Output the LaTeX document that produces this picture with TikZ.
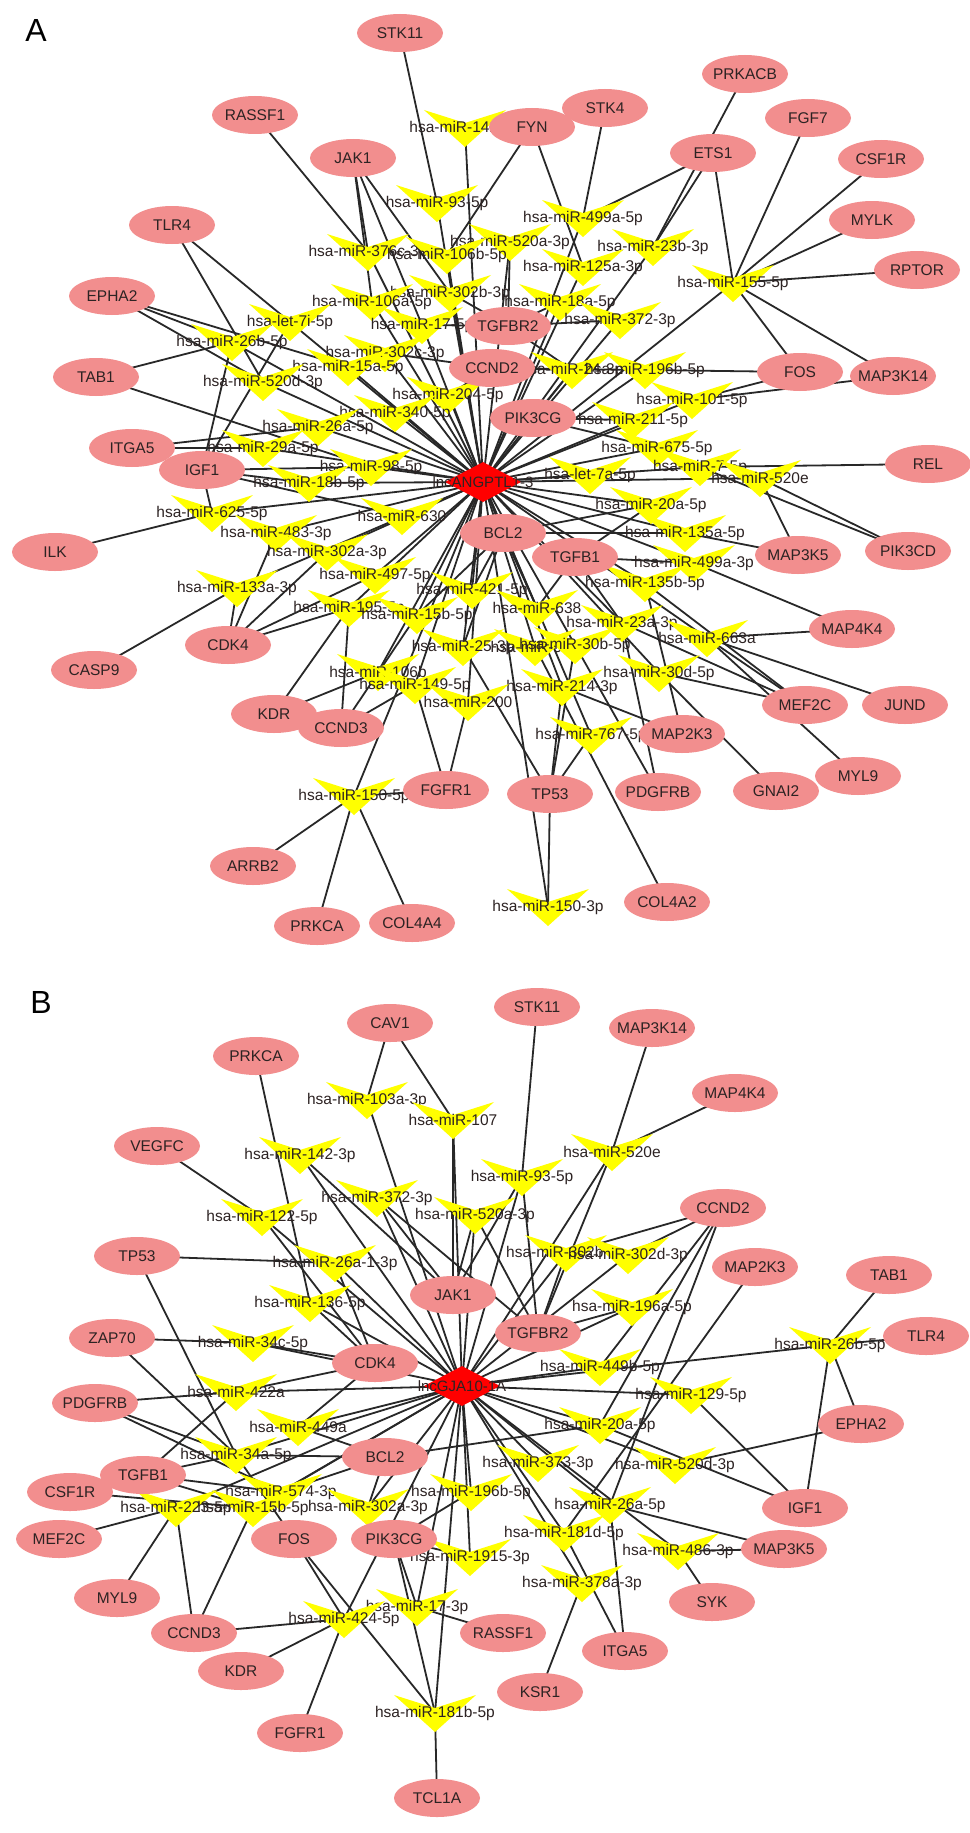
\documentclass[tikz,border=0pt]{standalone}
\usepackage{fontspec}
\setmainfont{Liberation Sans}
\usetikzlibrary{shapes.geometric}
\definecolor{genefill}{RGB}{242,142,142}
\definecolor{mirfill}{RGB}{255,255,0}
\definecolor{edgecol}{RGB}{40,40,40}
\definecolor{txt}{RGB}{45,35,35}
\pgfdeclarelayer{bg}
\pgfsetlayers{bg,main}
\tikzset{
 gene/.style={ellipse, fill=genefill, minimum width=86pt, minimum height=38pt, inner sep=0pt, text=txt, font=\fontsize{15.5}{17}\selectfont},
 mirlab/.style={inner sep=0pt, text=txt, font=\fontsize{15.5}{17}\selectfont},
 mirshape/.style={fill=mirfill},
 lnc/.style={diamond, fill=red, minimum width=76pt, minimum height=40pt, inner sep=0pt, text=txt, font=\fontsize{15}{17}\selectfont},
 edge/.style={draw=edgecol, line width=1.8pt},
 panel/.style={font=\fontsize{32}{34}\selectfont, text=black}
}
\newcommand\gn[4]{\node[gene] (#1) at (#2,#3) {\makebox[0pt]{#4}};}
\newcommand\mr[4]{\fill[mirshape] ({#2-41},{#3-18}) -- (#2,{#3-5}) -- ({#2+41},{#3-18}) -- (#2,{#3+19}) -- cycle;
  \node[mirlab] (#1) at (#2,#3) {#4};}
\begin{document}
\begin{tikzpicture}[x=1pt,y=-1pt]
\useasboundingbox (0,0) rectangle (969,1833);
\begin{pgfonlayer}{bg}\fill[white] (0,0) rectangle (969,1833);\end{pgfonlayer}
\node[panel] (labA) at (36,30) {A};
\node[panel] (labB) at (41,1002) {B};
% ---------------- Panel A miRNAs
\mr{am1}{465}{128}{hsa-miR-142-3p}
\mr{am2}{437}{203}{hsa-miR-93-5p}
\mr{am3}{583}{218}{hsa-miR-499a-5p}
\mr{am4}{510}{242}{hsa-miR-520a-3p}
\mr{am5}{653}{247}{hsa-miR-23b-3p}
\mr{am6}{368}{252}{hsa-miR-376c-3p}
\mr{am7}{447}{255}{hsa-miR-106b-5p}
\mr{am8}{583}{267}{hsa-miR-125a-3p}
\mr{am9}{733}{283}{hsa-miR-155-5p}
\mr{am10}{450}{293}{hsa-miR-302b-3p}
\mr{am11}{560}{302}{hsa-miR-18a-5p}
\mr{am12}{372}{302}{hsa-miR-106a-5p}
\mr{am13}{620}{320}{hsa-miR-372-3p}
\mr{am14}{290}{322}{hsa-let-7i-5p}
\mr{am15}{422}{325}{hsa-miR-17-5p}
\mr{am16}{232}{342}{hsa-miR-26b-5p}
\mr{am17}{385}{353}{hsa-miR-302c-3p}
\mr{am18}{348}{367}{hsa-miR-15a-5p}
\mr{am19}{572}{370}{hsa-miR-24-3p}
\mr{am20}{645}{370}{hsa-miR-196b-5p}
\mr{am21}{263}{382}{hsa-miR-520d-3p}
\mr{am22}{448}{395}{hsa-miR-204-5p}
\mr{am23}{692}{400}{hsa-miR-101-5p}
\mr{am24}{395}{413}{hsa-miR-340-5p}
\mr{am25}{633}{420}{hsa-miR-211-5p}
\mr{am26}{318}{427}{hsa-miR-26a-5p}
\mr{am27}{263}{448}{hsa-miR-29a-5p}
\mr{am28}{657}{448}{hsa-miR-675-5p}
\mr{am29}{371}{467}{hsa-miR-98-5p}
\mr{am30}{700}{467}{hsa-miR-7-5p}
\mr{am31}{590}{475}{hsa-let-7a-5p}
\mr{am32}{760}{478}{hsa-miR-520e}
\mr{am33}{309}{483}{hsa-miR-18b-5p}
\mr{am34}{651}{505}{hsa-miR-20a-5p}
\mr{am35}{212}{513}{hsa-miR-625-5p}
\mr{am36}{402}{516}{hsa-miR-630}
\mr{am37}{276}{533}{hsa-miR-483-3p}
\mr{am38}{685}{533}{hsa-miR-135a-5p}
\mr{am39}{327}{552}{hsa-miR-302a-3p}
\mr{am40}{694}{563}{hsa-miR-499a-3p}
\mr{am41}{375}{575}{hsa-miR-497-5p}
\mr{am42}{645}{583}{hsa-miR-135b-5p}
\mr{am43}{237}{588}{hsa-miR-133a-3p}
\mr{am44}{472}{590}{hsa-miR-421-5p}
\mr{am45}{349}{608}{hsa-miR-195-5p}
\mr{am46}{537}{608}{hsa-miR-638}
\mr{am47}{417}{615}{hsa-miR-15b-5p}
\mr{am48}{622}{623}{hsa-miR-23a-3p}
\mr{am49}{707}{638}{hsa-miR-663a}
\mr{am50}{463}{647}{hsa-miR-25-3p}
\mr{am51}{535}{647}{hsa-miR-504}
\mr{am52}{575}{645}{hsa-miR-30b-5p}
\mr{am53}{378}{672}{hsa-miR-106b}
\mr{am54}{659}{673}{hsa-miR-30d-5p}
\mr{am55}{415}{685}{hsa-miR-149-5p}
\mr{am56}{562}{687}{hsa-miR-214-3p}
\mr{am57}{468}{702}{hsa-miR-200}
\mr{am58}{591}{735}{hsa-miR-767-5p}
\mr{am59}{354}{796}{hsa-miR-150-5p}
\mr{am60}{548}{907}{hsa-miR-150-3p}
% ---------------- Panel A genes
\gn{aSTK11}{400}{33}{STK11}
\gn{aPRKACB}{745}{74}{PRKACB}
\gn{aRASSF1}{255}{115}{RASSF1}
\gn{aFYN}{532}{127}{FYN}
\gn{aSTK4}{605}{108}{STK4}
\gn{aETS1}{713}{153}{ETS1}
\gn{aFGF7}{808}{118}{FGF7}
\gn{aCSF1R}{881}{159}{CSF1R}
\gn{aJAK1}{353}{158}{JAK1}
\gn{aTLR4}{172}{225}{TLR4}
\gn{aMYLK}{872}{220}{MYLK}
\gn{aRPTOR}{917}{270}{RPTOR}
\gn{aEPHA2}{112}{296}{EPHA2}
\gn{aTGFBR2}{508}{326}{TGFBR2}
\gn{aTAB1}{96}{377}{TAB1}
\gn{aFOS}{800}{372}{FOS}
\gn{aMAP3K14}{893}{376}{MAP3K14}
\gn{aCCND2}{492}{368}{CCND2}
\gn{aPIK3CG}{533}{418}{PIK3CG}
\gn{aITGA5}{132}{448}{ITGA5}
\gn{aIGF1}{202}{470}{IGF1}
\gn{aREL}{928}{464}{REL}
\gn{aBCL2}{503}{533}{BCL2}
\gn{aTGFB1}{575}{557}{TGFB1}
\gn{aMAP3K5}{798}{555}{MAP3K5}
\gn{aPIK3CD}{908}{551}{PIK3CD}
\gn{aILK}{55}{552}{ILK}
\gn{aCDK4}{228}{645}{CDK4}
\gn{aCASP9}{94}{670}{CASP9}
\gn{aMAP4K4}{852}{629}{MAP4K4}
\gn{aKDR}{274}{714}{KDR}
\gn{aCCND3}{341}{728}{CCND3}
\gn{aMEF2C}{805}{705}{MEF2C}
\gn{aJUND}{905}{705}{JUND}
\gn{aMAP2K3}{682}{734}{MAP2K3}
\gn{aMYL9}{858}{776}{MYL9}
\gn{aFGFR1}{446}{790}{FGFR1}
\gn{aTP53}{550}{794}{TP53}
\gn{aPDGFRB}{658}{792}{PDGFRB}
\gn{aGNAI2}{776}{791}{GNAI2}
\gn{aARRB2}{253}{866}{ARRB2}
\gn{aPRKCA}{317}{926}{PRKCA}
\gn{aCOL4A4}{412}{923}{COL4A4}
\gn{aCOL4A2}{667}{902}{COL4A2}
\node[lnc] (LA) at (483,482) {\makebox[0pt]{lncANGPTL1-3}};
% ---------------- Panel B miRNAs
\mr{bm1}{367}{1100}{hsa-miR-103a-3p}
\mr{bm2}{453}{1120}{hsa-miR-107}
\mr{bm3}{300}{1155}{hsa-miR-142-3p}
\mr{bm4}{612}{1152}{hsa-miR-520e}
\mr{bm5}{522}{1177}{hsa-miR-93-5p}
\mr{bm6}{377}{1198}{hsa-miR-372-3p}
\mr{bm7}{475}{1215}{hsa-miR-520a-3p}
\mr{bm8}{262}{1217}{hsa-miR-122-5p}
\mr{bm9}{566}{1253}{hsa-miR-302b-3p}
\mr{bm10}{628}{1255}{hsa-miR-302d-3p}
\mr{bm11}{335}{1263}{hsa-miR-26a-1-3p}
\mr{bm12}{310}{1303}{hsa-miR-136-5p}
\mr{bm13}{632}{1307}{hsa-miR-196a-5p}
\mr{bm14}{253}{1343}{hsa-miR-34c-5p}
\mr{bm15}{830}{1345}{hsa-miR-26b-5p}
\mr{bm16}{600}{1367}{hsa-miR-449b-5p}
\mr{bm17}{236}{1392}{hsa-miR-422a}
\mr{bm18}{691}{1395}{hsa-miR-129-5p}
\mr{bm19}{298}{1427}{hsa-miR-449a}
\mr{bm20}{600}{1425}{hsa-miR-20a-5p}
\mr{bm21}{236}{1455}{hsa-miR-34a-5p}
\mr{bm22}{538}{1463}{hsa-miR-373-3p}
\mr{bm23}{675}{1465}{hsa-miR-520d-3p}
\mr{bm24}{471}{1492}{hsa-miR-196b-5p}
\mr{bm25}{281}{1492}{hsa-miR-574-3p}
\mr{bm26}{610}{1505}{hsa-miR-26a-5p}
\mr{bm27}{368}{1507}{hsa-miR-302a-3p}
\mr{bm28}{176}{1508}{hsa-miR-223-5p}
\mr{bm29}{253}{1508}{hsa-miR-15b-5p}
\mr{bm30}{564}{1533}{hsa-miR-181d-5p}
\mr{bm31}{678}{1551}{hsa-miR-486-3p}
\mr{bm32}{470}{1557}{hsa-miR-1915-3p}
\mr{bm33}{582}{1583}{hsa-miR-378a-3p}
\mr{bm34}{417}{1607}{hsa-miR-17-3p}
\mr{bm35}{344}{1619}{hsa-miR-424-5p}
\mr{bm36}{435}{1713}{hsa-miR-181b-5p}
% ---------------- Panel B genes
\gn{bCAV1}{390}{1023}{CAV1}
\gn{bSTK11}{537}{1007}{STK11}
\gn{bPRKCA}{256}{1056}{PRKCA}
\gn{bMAP3K14}{652}{1028}{MAP3K14}
\gn{bMAP4K4}{735}{1093}{MAP4K4}
\gn{bVEGFC}{157}{1146}{VEGFC}
\gn{bCCND2}{723}{1208}{CCND2}
\gn{bTP53}{137}{1256}{TP53}
\gn{bMAP2K3}{755}{1267}{MAP2K3}
\gn{bTAB1}{889}{1275}{TAB1}
\gn{bJAK1}{453}{1295}{JAK1}
\gn{bTGFBR2}{538}{1333}{TGFBR2}
\gn{bZAP70}{112}{1338}{ZAP70}
\gn{bTLR4}{926}{1336}{TLR4}
\gn{bCDK4}{375}{1363}{CDK4}
\gn{bPDGFRB}{95}{1403}{PDGFRB}
\gn{bEPHA2}{861}{1424}{EPHA2}
\gn{bBCL2}{385}{1457}{BCL2}
\gn{bTGFB1}{143}{1475}{TGFB1}
\gn{bCSF1R}{70}{1492}{CSF1R}
\gn{bIGF1}{805}{1508}{IGF1}
\gn{bMEF2C}{59}{1539}{MEF2C}
\gn{bFOS}{294}{1539}{FOS}
\gn{bPIK3CG}{394}{1539}{PIK3CG}
\gn{bMAP3K5}{784}{1549}{MAP3K5}
\gn{bMYL9}{117}{1598}{MYL9}
\gn{bSYK}{712}{1602}{SYK}
\gn{bCCND3}{194}{1633}{CCND3}
\gn{bRASSF1}{503}{1633}{RASSF1}
\gn{bITGA5}{625}{1651}{ITGA5}
\gn{bKDR}{241}{1671}{KDR}
\gn{bKSR1}{540}{1692}{KSR1}
\gn{bFGFR1}{300}{1733}{FGFR1}
\gn{bTCL1A}{437}{1798}{TCL1A}
\node[lnc] (LB) at (462,1386) {\makebox[0pt]{lncGJA10-1A}};
% ---------------- edges
\begin{pgfonlayer}{bg}
\foreach \i in {1,...,60} \draw[edge] (LA.center) -- (am\i.center);
\foreach \i in {1,...,36} \draw[edge] (LB.center) -- (bm\i.center);
\foreach \g/\m in {aSTK11/2, aPRKACB/5, aRASSF1/6, aFYN/7, aFYN/8, aSTK4/3, aETS1/3, aETS1/5, aETS1/9,
 aFGF7/9, aCSF1R/9, aMYLK/9, aRPTOR/9, aMAP3K14/9, aFOS/9, aJAK1/6, aJAK1/12, aJAK1/15, aJAK1/10,
 aTLR4/14, aTLR4/21, aEPHA2/16, aEPHA2/21, aEPHA2/18, aTAB1/16, aTAB1/29, aITGA5/26, aITGA5/27,
 aIGF1/16, aIGF1/14, aIGF1/29, aIGF1/33, aIGF1/35, aIGF1/36, aILK/35, aCASP9/43,
 aCDK4/43, aCDK4/37, aCDK4/39, aCDK4/45, aCDK4/41, aKDR/45, aKDR/53, aCCND3/45, aCCND3/55, aCCND3/47,
 aFGFR1/59, aFGFR1/55, aFGFR1/57, aTP53/60, aTP53/58, aTP53/56, aTP53/50, aTP53/52,
 aPDGFRB/52, aPDGFRB/48, aCOL4A2/51, aGNAI2/54, aMAP2K3/42, aMAP2K3/56,
 aMEF2C/49, aMEF2C/54, aMEF2C/42, aMEF2C/48, aJUND/49, aMYL9/49, aMAP4K4/49, aMAP4K4/40,
 aMAP3K5/38, aMAP3K5/32, aPIK3CD/32, aPIK3CD/30, aREL/30, aARRB2/59, aPRKCA/59, aCOL4A4/59,
 aTGFBR2/10, aTGFBR2/4, aTGFBR2/11, aTGFBR2/13, aTGFBR2/19, aTGFBR2/15,
 aCCND2/22, aCCND2/17, aCCND2/19, aCCND2/20, aPIK3CG/25, aPIK3CG/28, aPIK3CG/19,
 aBCL2/44, aBCL2/46, aBCL2/38, aBCL2/34, aBCL2/50, aBCL2/47,
 aTGFB1/42, aTGFB1/40, aTGFB1/48, aTGFB1/46, aTGFB1/34, aFOS/20, aFOS/23, aMAP3K14/23}
 \draw[edge] (\g.center) -- (am\m.center);
\foreach \g/\m in {bCAV1/1, bCAV1/2, bPRKCA/12, bSTK11/5, bMAP3K14/4, bMAP4K4/4, bVEGFC/8,
 bTP53/11, bTP53/21, bCCND2/10, bCCND2/9, bCCND2/20, bCCND2/26, bCCND2/16, bMAP2K3/30,
 bTAB1/15, bTLR4/15, bEPHA2/15, bIGF1/15, bIGF1/18, bIGF1/20, bEPHA2/23,
 bJAK1/2, bJAK1/3, bJAK1/6, bJAK1/7, bJAK1/5,
 bTGFBR2/9, bTGFBR2/13, bTGFBR2/7, bTGFBR2/5, bTGFBR2/6, bTGFBR2/4,
 bZAP70/14, bZAP70/21, bCDK4/14, bCDK4/17, bCDK4/19, bCDK4/12, bCDK4/11, bCDK4/8,
 bPDGFRB/17, bPDGFRB/21, bPDGFRB/25, bBCL2/21, bBCL2/19, bBCL2/20, bBCL2/27, bBCL2/25,
 bTGFB1/21, bTGFB1/25, bTGFB1/29, bTGFB1/17, bCSF1R/29, bMEF2C/28, bMYL9/28,
 bFOS/35, bFOS/21, bFOS/36, bPIK3CG/24, bPIK3CG/32, bPIK3CG/34, bPIK3CG/36,
 bMAP3K5/26, bMAP3K5/31, bSYK/31, bCCND3/29, bCCND3/35, bCCND3/28, bRASSF1/34,
 bITGA5/30, bITGA5/26, bKDR/35, bKSR1/33, bFGFR1/35, bTCL1A/36}
 \draw[edge] (\g.center) -- (bm\m.center);
\end{pgfonlayer}
\end{tikzpicture}
\end{document}
